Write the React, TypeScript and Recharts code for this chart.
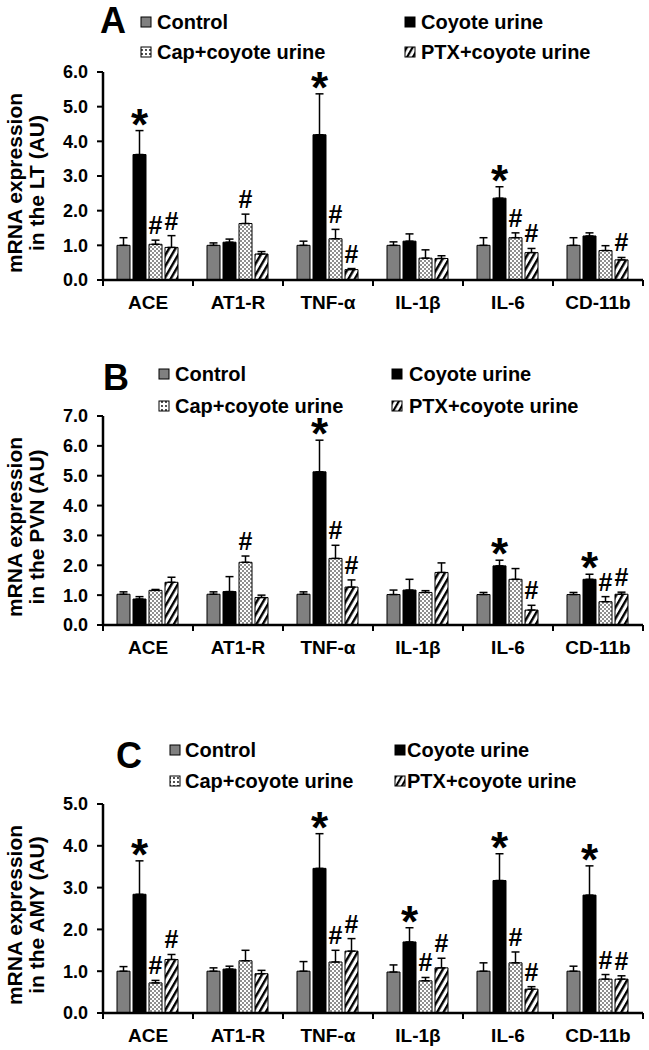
import React from 'react';
import { BarChart, Bar, XAxis, YAxis, ErrorBar, LabelList } from 'recharts';

const FONT = '"Liberation Sans", Arial, Helvetica, sans-serif';

const categories = ['ACE', 'AT1-R', 'TNF-α', 'IL-1β', 'IL-6', 'CD-11b'];
const seriesNames = ['Control', 'Coyote urine', 'Cap+coyote urine', 'PTX+coyote urine'];

// Panel A — LT
const ltControl = [1.0, 1.0, 1.0, 1.0, 1.0, 1.0];
const ltControlErr = [0.22, 0.07, 0.12, 0.1, 0.22, 0.22];
const ltCoyote = [3.62, 1.09, 4.19, 1.12, 2.36, 1.27];
const ltCoyoteErr = [0.69, 0.09, 1.18, 0.21, 0.33, 0.09];
const ltCap = [1.03, 1.63, 1.19, 0.63, 1.22, 0.85];
const ltCapErr = [0.12, 0.27, 0.27, 0.24, 0.14, 0.14];
const ltPtx = [0.94, 0.75, 0.3, 0.62, 0.79, 0.58];
const ltPtxErr = [0.34, 0.07, 0.03, 0.08, 0.12, 0.07];
const ltCoyoteMarks = ['*', '', '*', '', '*', ''];
const ltCapMarks = ['#', '#', '#', '', '#', ''];
const ltPtxMarks = ['#', '', '#', '', '#', '#'];

// Panel B — PVN
const pvnControl = [1.03, 1.03, 1.03, 1.02, 1.02, 1.02];
const pvnControlErr = [0.08, 0.08, 0.08, 0.15, 0.07, 0.07];
const pvnCoyote = [0.87, 1.12, 5.13, 1.17, 1.98, 1.53];
const pvnCoyoteErr = [0.08, 0.5, 1.06, 0.36, 0.19, 0.17];
const pvnCap = [1.16, 2.1, 2.23, 1.09, 1.53, 0.78];
const pvnCapErr = [0.03, 0.21, 0.44, 0.06, 0.36, 0.17];
const pvnPtx = [1.43, 0.92, 1.27, 1.76, 0.5, 1.03];
const pvnPtxErr = [0.17, 0.08, 0.24, 0.32, 0.16, 0.07];
const pvnCoyoteMarks = ['', '', '*', '', '*', '*'];
const pvnCapMarks = ['', '#', '#', '', '', '#'];
const pvnPtxMarks = ['', '', '#', '', '#', '#'];

// Panel C — AMY
const amyControl = [1.0, 1.0, 1.0, 0.98, 1.0, 1.0];
const amyControlErr = [0.11, 0.08, 0.23, 0.17, 0.2, 0.12];
const amyCoyote = [2.84, 1.05, 3.46, 1.7, 3.17, 2.82];
const amyCoyoteErr = [0.8, 0.07, 0.83, 0.34, 0.64, 0.7];
const amyCap = [0.72, 1.25, 1.22, 0.77, 1.2, 0.81];
const amyCapErr = [0.06, 0.25, 0.28, 0.08, 0.26, 0.11];
const amyPtx = [1.28, 0.94, 1.48, 1.08, 0.57, 0.81];
const amyPtxErr = [0.12, 0.08, 0.3, 0.23, 0.06, 0.08];
const amyCoyoteMarks = ['*', '', '*', '*', '*', '*'];
const amyCapMarks = ['#', '', '#', '#', '#', '#'];
const amyPtxMarks = ['#', '', '#', '#', '#', '#'];

const ltTicks = [0, 1, 2, 3, 4, 5, 6];
const pvnTicks = [0, 1, 2, 3, 4, 5, 6, 7];
const amyTicks = [0, 1, 2, 3, 4, 5];

const noMarks = ['', '', '', '', '', ''];

function buildRows(
  control: number[], controlErr: number[],
  coyote: number[], coyoteErr: number[],
  cap: number[], capErr: number[],
  ptx: number[], ptxErr: number[],
  coyoteMarks: string[], capMarks: string[], ptxMarks: string[]
) {
  return categories.map((name, i) => ({
    name,
    control: control[i], controlErr: [0, controlErr[i]], controlMark: noMarks[i],
    coyote: coyote[i], coyoteErr: [0, coyoteErr[i]], coyoteMark: coyoteMarks[i],
    cap: cap[i], capErr: [0, capErr[i]], capMark: capMarks[i],
    ptx: ptx[i], ptxErr: [0, ptxErr[i]], ptxMark: ptxMarks[i],
  }));
}

const ltRows = buildRows(ltControl, ltControlErr, ltCoyote, ltCoyoteErr, ltCap, ltCapErr, ltPtx, ltPtxErr, ltCoyoteMarks, ltCapMarks, ltPtxMarks);
const pvnRows = buildRows(pvnControl, pvnControlErr, pvnCoyote, pvnCoyoteErr, pvnCap, pvnCapErr, pvnPtx, pvnPtxErr, pvnCoyoteMarks, pvnCapMarks, pvnPtxMarks);
const amyRows = buildRows(amyControl, amyControlErr, amyCoyote, amyCoyoteErr, amyCap, amyCapErr, amyPtx, amyPtxErr, amyCoyoteMarks, amyCapMarks, amyPtxMarks);

const SERIES_KEYS = ['control', 'coyote', 'cap', 'ptx'];

function fillFor(key: string, id: string) {
  if (key === 'control') return '#808080';
  if (key === 'coyote') return '#000000';
  if (key === 'cap') return `url(#dots-${id})`;
  return `url(#stripes-${id})`;
}

function PatternDefs({ id }: { id: string }) {
  return (
    <defs>
      <pattern id={`dots-${id}`} width="4" height="4" patternUnits="userSpaceOnUse">
        <rect width="4" height="4" fill="#fff" />
        <circle cx="1" cy="1" r="0.8" fill="#000" />
        <circle cx="3" cy="3" r="0.8" fill="#000" />
      </pattern>
      <pattern id={`stripes-${id}`} width="5.5" height="5.5" patternUnits="userSpaceOnUse" patternTransform="rotate(30)">
        <rect width="5.5" height="5.5" fill="#fff" />
        <rect width="2.4" height="5.5" fill="#000" />
      </pattern>
    </defs>
  );
}

function CatTick(props: any) {
  const { x, y, payload, index } = props;
  const half = payload && payload.offset ? payload.offset : 45;
  return (
    <g>
      <line x1={x + half} y1={y} x2={x + half} y2={y + 6} stroke="#000" strokeWidth={2} />
      {index === 0 && <line x1={x - half} y1={y} x2={x - half} y2={y + 6} stroke="#000" strokeWidth={2} />}
      <text x={x} y={y + 29} textAnchor="middle" fontSize={19} fontWeight={700} fontFamily={FONT} fill="#000">
        {payload.value}
      </text>
    </g>
  );
}

function makeMarkRenderer(rows: any[], key: string) {
  return (p: any) => {
    const vb = p.viewBox || {};
    const x = vb.x ?? p.x;
    const y = vb.y ?? p.y;
    const w = vb.width ?? p.width;
    const h = vb.height ?? p.height;
    const i = p.index;
    const row = rows[i];
    if (!row) return null;
    const mark = row[key + 'Mark'];
    if (!mark) return null;
    const value = row[key];
    const err = row[key + 'Err'][1];
    const ppu = Math.abs(h) / value;
    const errTop = y - err * ppu;
    const cx = x + w / 2;
    if (mark === '*') {
      return (
        <text x={cx} y={errTop + 9} textAnchor="middle" fontSize={44} fontWeight={700} fontFamily={FONT} fill="#000">
          *
        </text>
      );
    }
    return (
      <text x={cx} y={errTop - 6} textAnchor="middle" fontSize={25} fontWeight={700} fontFamily={FONT} fill="#000">
        #
      </text>
    );
  };
}

type PanelProps = {
  id: string;
  top: number;
  height: number;
  marginTop: number;
  marginBottom: number;
  xAxisHeight: number;
  yMax: number;
  ticks: number[];
  rows: any[];
};

function Panel({ id, top, height, marginTop, marginBottom, xAxisHeight, yMax, ticks, rows }: PanelProps) {
  return (
    <div style={{ position: 'absolute', left: 0, top, width: 649, height }}>
      <BarChart
        width={649}
        height={height}
        data={rows}
        margin={{ top: marginTop, right: 6, bottom: marginBottom, left: 63 }}
        barCategoryGap={14}
        barGap={3}
      >
        <PatternDefs id={id} />
        <XAxis
          dataKey="name"
          height={xAxisHeight}
          axisLine={{ stroke: '#000', strokeWidth: 2.5 }}
          tickLine={false}
          tickSize={0}
          tickMargin={0}
          interval={0}
          tick={<CatTick />}
        />
        <YAxis
          width={40}
          type="number"
          domain={[0, yMax]}
          ticks={ticks}
          interval={0}
          allowDataOverflow
          tickFormatter={(v: number) => v.toFixed(1)}
          axisLine={{ stroke: '#000', strokeWidth: 2.5 }}
          tickLine={{ stroke: '#000', strokeWidth: 2 }}
          tickSize={6}
          tickMargin={9}
          tick={{ fill: '#000', fontSize: 18, fontWeight: 700, fontFamily: FONT }}
        />
        {SERIES_KEYS.map((key) => (
          <Bar
            key={key}
            dataKey={key}
            fill={fillFor(key, id)}
            stroke="#000"
            strokeWidth={1}
            isAnimationActive={false}
          >
            <ErrorBar dataKey={key + 'Err'} width={4} stroke="#000" strokeWidth={1.5} direction="y" />
            <LabelList dataKey={key} content={makeMarkRenderer(rows, key)} />
          </Bar>
        ))}
      </BarChart>
    </div>
  );
}

type LegendLayout = {
  col1Sq: number; col1Text: number; col2Sq: number; col2Text: number; row1: number; row2: number;
};

function LegendBlock({ l }: { l: LegendLayout }) {
  const items = [
    { sq: l.col1Sq, tx: l.col1Text, cy: l.row1, fill: '#808080', name: seriesNames[0] },
    { sq: l.col2Sq, tx: l.col2Text, cy: l.row1, fill: '#000', name: seriesNames[1] },
    { sq: l.col1Sq, tx: l.col1Text, cy: l.row2, fill: 'url(#lg-dots)', name: seriesNames[2] },
    { sq: l.col2Sq, tx: l.col2Text, cy: l.row2, fill: 'url(#lg-stripes)', name: seriesNames[3] },
  ];
  return (
    <g>
      {items.map((it, i) => (
        <g key={i}>
          <rect x={it.sq} y={it.cy - 5} width={10} height={10} fill={it.fill} stroke="#000" strokeWidth={1} />
          <text x={it.tx} y={it.cy + 7} fontSize={20} fontWeight={700} fontFamily={FONT} fill="#000">
            {it.name}
          </text>
        </g>
      ))}
    </g>
  );
}

function YLabel({ cy, region }: { cy: number; region: string }) {
  return (
    <g>
      <text transform={`translate(22, ${cy}) rotate(-90)`} textAnchor="middle" fontSize={21} fontWeight={700} fontFamily={FONT} fill="#000">
        mRNA expression
      </text>
      <text transform={`translate(44, ${cy}) rotate(-90)`} textAnchor="middle" fontSize={21} fontWeight={700} fontFamily={FONT} fill="#000">
        {`in the ${region} (AU)`}
      </text>
    </g>
  );
}

export default function App() {
  return (
    <div style={{ position: 'absolute', left: 0, top: 0, width: 649, height: 1050, background: '#fff', overflow: 'hidden' }}>
      <Panel id="lt" top={0} height={340} marginTop={72} marginBottom={20} xAxisHeight={40} yMax={6} ticks={ltTicks} rows={ltRows} />
      <Panel id="pvn" top={340} height={360} marginTop={76} marginBottom={35} xAxisHeight={40} yMax={7} ticks={pvnTicks} rows={pvnRows} />
      <Panel id="amy" top={700} height={350} marginTop={104} marginBottom={0} xAxisHeight={37} yMax={5} ticks={amyTicks} rows={amyRows} />
      <svg width={649} height={1050} style={{ position: 'absolute', left: 0, top: 0, pointerEvents: 'none' }}>
        <defs>
          <pattern id="lg-dots" width="4" height="4" patternUnits="userSpaceOnUse">
            <rect width="4" height="4" fill="#fff" />
            <circle cx="2" cy="2" r="0.9" fill="#000" />
          </pattern>
          <pattern id="lg-stripes" width="5" height="5" patternUnits="userSpaceOnUse" patternTransform="rotate(30)">
            <rect width="5" height="5" fill="#fff" />
            <rect width="2.2" height="5" fill="#000" />
          </pattern>
        </defs>
        <text x={100} y={33} fontSize={36} fontWeight={700} fontFamily={FONT} fill="#000">A</text>
        <text x={103} y={390} fontSize={36} fontWeight={700} fontFamily={FONT} fill="#000">B</text>
        <text x={116} y={768} fontSize={36} fontWeight={700} fontFamily={FONT} fill="#000">C</text>
        <LegendBlock l={{ col1Sq: 141, col1Text: 157, col2Sq: 405, col2Text: 421, row1: 22, row2: 52 }} />
        <LegendBlock l={{ col1Sq: 159, col1Text: 175, col2Sq: 392, col2Text: 409, row1: 374, row2: 406 }} />
        <LegendBlock l={{ col1Sq: 170, col1Text: 185, col2Sq: 395, col2Text: 407, row1: 750, row2: 781 }} />
        <YLabel cy={183} region="LT" />
        <YLabel cy={527} region="PVN" />
        <YLabel cy={915} region="AMY" />
      </svg>
    </div>
  );
}
